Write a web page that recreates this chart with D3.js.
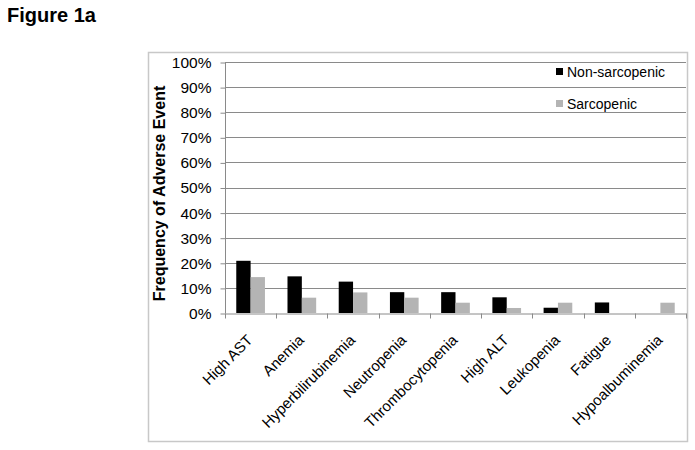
<!DOCTYPE html>
<html>
<head>
<meta charset="utf-8">
<script src="https://cdn.jsdelivr.net/npm/d3@7"></script>
<style>
  body { margin: 0; background: #fff; }
  text { font-family: "Liberation Sans", Arial, sans-serif; }
</style>
</head>
<body>
<div id="chart"></div>
<script>
// adverse events, fraction of patients
var categories = ["High AST", "Anemia", "Hyperbilirubinemia", "Neutropenia",
    "Thrombocytopenia", "High ALT", "Leukopenia", "Fatigue", "Hypoalbuminemia"];
var nonSarcopenic = [0.208, 0.146, 0.125, 0.083, 0.083, 0.0625, 0.021, 0.042, 0];
var sarcopenic = [0.143, 0.061, 0.082, 0.061, 0.041, 0.020, 0.041, 0, 0.041];
var seriesNames = ["Non-sarcopenic", "Sarcopenic"];
var seriesColors = ["#000000", "#b4b4b4"];
var yTicks = [0, 0.1, 0.2, 0.3, 0.4, 0.5, 0.6, 0.7, 0.8, 0.9, 1.0];

function init() {
    var w = 695, h = 450;

    var svg = d3.select("#chart")
                .append("svg")
                .attr("width", w)
                .attr("height", h);

    //figure title
    svg.append("text")
        .attr("x", 7)
        .attr("y", 22)
        .style("font-size", "20px")
        .style("font-weight", "bold")
        .text("Figure 1a");

    //chart border
    svg.append("rect")
        .attr("x", 148.5)
        .attr("y", 52.5)
        .attr("width", 539)
        .attr("height", 389)
        .attr("fill", "none")
        .attr("stroke", "#c8c8c8")
        .attr("stroke-width", 1.5);

    var x0 = d3.scaleBand()
                .domain(categories)
                .range([225, 686]);

    var y = d3.scaleLinear()
                .domain([0, 1])
                .range([313, 62]);

    var barW = x0.bandwidth() * 0.28;

    //gridlines
    svg.append("g")
        .selectAll("line")
        .data(yTicks.slice(1))
        .enter()
        .append("line")
        .attr("x1", 225)
        .attr("x2", 686)
        .attr("y1", function(d) { return Math.round(y(d)) + 0.5; })
        .attr("y2", function(d) { return Math.round(y(d)) + 0.5; })
        .attr("stroke", "#8a8a8a")
        .attr("stroke-width", 1);

    //y axis
    var yAxis = d3.axisLeft(y)
                .tickValues(yTicks)
                .tickFormat(d3.format(".0%"))
                .tickSize(5)
                .tickPadding(9);
    var gy = svg.append("g")
        .attr("transform", "translate(225.5,0.5)")
        .call(yAxis);
    gy.select(".domain").attr("stroke", "#8a8a8a").attr("d", "M0," + y(1) + "V" + y(0));
    gy.selectAll(".tick line").attr("stroke", "#8a8a8a");
    gy.selectAll(".tick text")
        .style("font-size", "15.5px")
        .attr("fill", "#000")
        .attr("font-family", null);

    //x axis
    var xAxis = d3.axisBottom(x0)
                .tickSize(0)
                .tickFormat("");
    var gx = svg.append("g")
        .attr("transform", "translate(0," + (y(0) + 0.5) + ")")
        .call(xAxis);
    gx.select(".domain").attr("stroke", "#8a8a8a");
    gx.selectAll(".tick").remove();

    //tick marks between categories
    var bounds = categories.map(function(c) { return x0(c); }).concat([x0.range()[1]]);
    gx.selectAll("line.sep")
        .data(bounds)
        .enter()
        .append("line")
        .attr("class", "sep")
        .attr("x1", function(d) { return Math.round(d) + 0.5; })
        .attr("x2", function(d) { return Math.round(d) + 0.5; })
        .attr("y1", 0)
        .attr("y2", 5)
        .attr("stroke", "#8a8a8a");

    //category labels
    svg.append("g")
        .selectAll("text")
        .data(categories)
        .enter()
        .append("text")
        .attr("transform", function(d) {
            var cx = x0(d) + x0.bandwidth() / 2 + 3;
            return "translate(" + cx + ",341) rotate(-45)";
        })
        .attr("text-anchor", "end")
        .style("font-size", "15px")
        .text(function(d) { return d; });

    //bars
    var series = [nonSarcopenic, sarcopenic];
    series.forEach(function(vals, si) {
        svg.append("g")
            .selectAll("rect")
            .data(vals)
            .enter()
            .append("rect")
            .attr("x", function(d, i) {
                return x0(categories[i]) + x0.bandwidth() / 2 - barW + si * barW;
            })
            .attr("y", function(d) { return y(d); })
            .attr("width", barW)
            .attr("height", function(d) { return y(0) - y(d); })
            .attr("fill", seriesColors[si]);
    });

    //y label
    svg.append("text")
        .attr("transform", "translate(165,193.5) rotate(-90)")
        .attr("text-anchor", "middle")
        .style("font-size", "16px")
        .style("font-weight", "bold")
        .text("Frequency of Adverse Event");

    //legend
    var legend = svg.append("g")
        .selectAll("g")
        .data(seriesNames)
        .enter()
        .append("g")
        .attr("transform", function(d, i) { return "translate(556," + (71.5 + i * 32) + ")"; });
    legend.append("rect")
        .attr("x", 0)
        .attr("y", -3.5)
        .attr("width", 7)
        .attr("height", 7)
        .attr("fill", function(d, i) { return seriesColors[i]; });
    legend.append("text")
        .attr("x", 11)
        .attr("y", 5)
        .style("font-size", "14px")
        .text(function(d) { return d; });
}

window.onload = init;
</script>
</body>
</html>
